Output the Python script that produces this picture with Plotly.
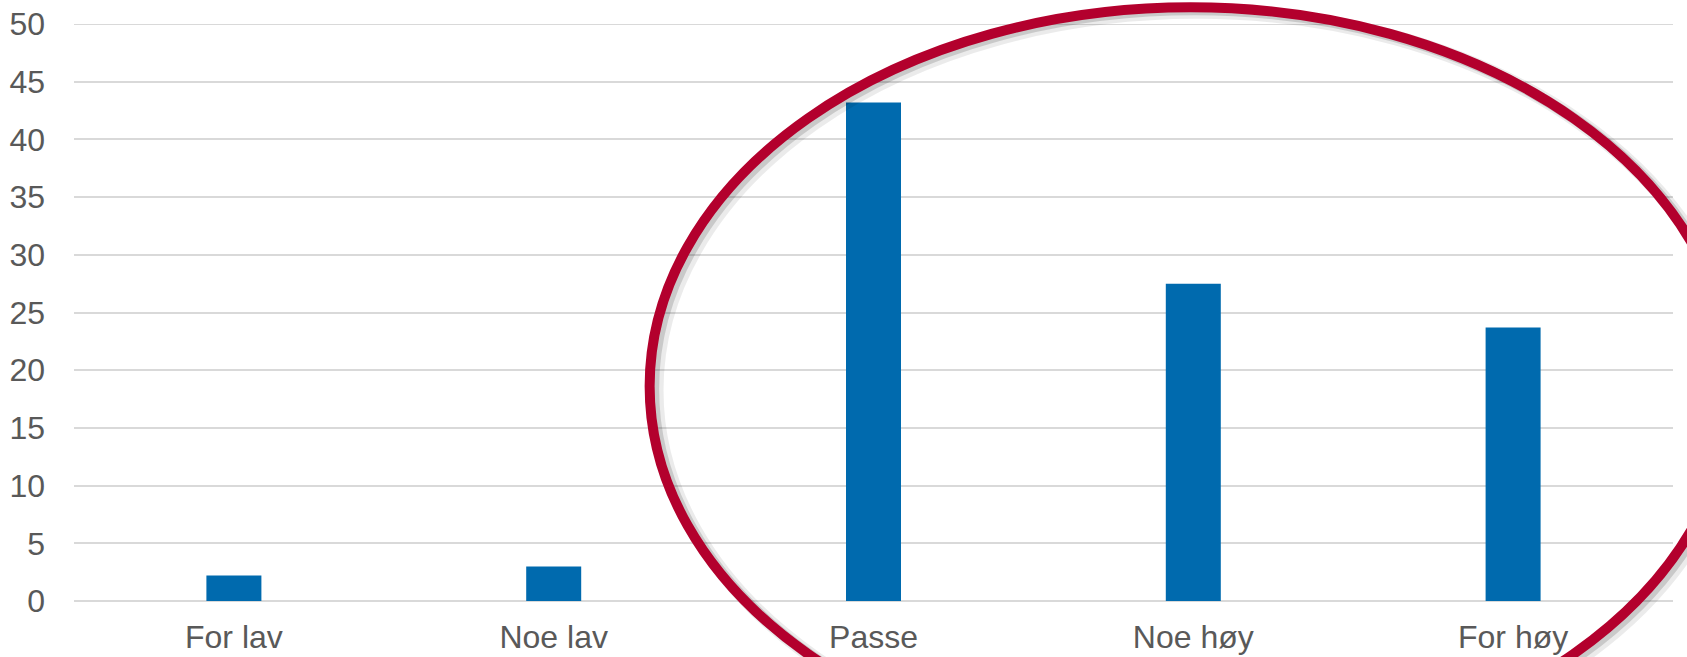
import plotly.graph_objects as go

categories = ["For lav", "Noe lav", "Passe", "Noe høy", "For høy"]
values = [2.2, 3.0, 43.2, 27.5, 23.7]
y_ticks = [0, 5, 10, 15, 20, 25, 30, 35, 40, 45, 50]

W, H = 1687, 657
ML, MR, MT, MB = 74, 14, 24, 56

TEXT = "#595959"
GRID = "#D9D9D9"
BAR = "#006AAE"
RED = "#B3002D"

fig = go.Figure()
fig.add_trace(go.Bar(
    x=categories, y=values, marker=dict(color=BAR, line=dict(width=0)),
    width=0.172, showlegend=False, hoverinfo="x+y",
))

shapes = []
# top gridline (at the upper range edge, which plotly skips)
shapes.append(dict(type="line", xref="paper", yref="y", x0=0, x1=1,
                   y0=y_ticks[-1], y1=y_ticks[-1],
                   line=dict(color=GRID, width=2), layer="below"))

# highlight ellipse (paper coordinates relative to the plot area)
ex0, ex1, ey0, ey1 = 0.360, 1.0369, -0.2842, 1.029
for dx, dy, w, op in [(0.004, -0.007, 15, 0.08), (0.0025, -0.0045, 11, 0.14)]:
    shapes.append(dict(type="circle", xref="paper", yref="paper",
                       x0=ex0 + dx, x1=ex1 + dx, y0=ey0 + dy, y1=ey1 + dy,
                       line=dict(color=f"rgba(0,0,0,{op})", width=w),
                       layer="above"))
shapes.append(dict(type="circle", xref="paper", yref="paper",
                   x0=ex0, x1=ex1, y0=ey0, y1=ey1,
                   line=dict(color=RED, width=10), layer="above"))

fig.update_layout(
    width=W, height=H,
    margin=dict(l=ML, r=MR, t=MT, b=MB, pad=0, autoexpand=False),
    paper_bgcolor="white", plot_bgcolor="white",
    font=dict(family="Liberation Sans, Arial, sans-serif", size=32, color=TEXT),
    shapes=shapes,
    xaxis=dict(showgrid=False, showline=False, ticks="", zeroline=False,
               tickfont=dict(size=32, color=TEXT), ticklabelstandoff=14,
               automargin=False, fixedrange=True),
    yaxis=dict(range=[0, 50], tickvals=y_ticks, showgrid=True, gridcolor=GRID,
               gridwidth=2, zeroline=True, zerolinecolor=GRID, zerolinewidth=2,
               showline=False, ticks="", tickfont=dict(size=32, color=TEXT),
               ticklabelstandoff=28, automargin=False, fixedrange=True),
)

fig.write_html("out.html", config={"displayModeBar": False},
               post_script="document.body.style.margin='0px';document.body.style.overflow='hidden';")
